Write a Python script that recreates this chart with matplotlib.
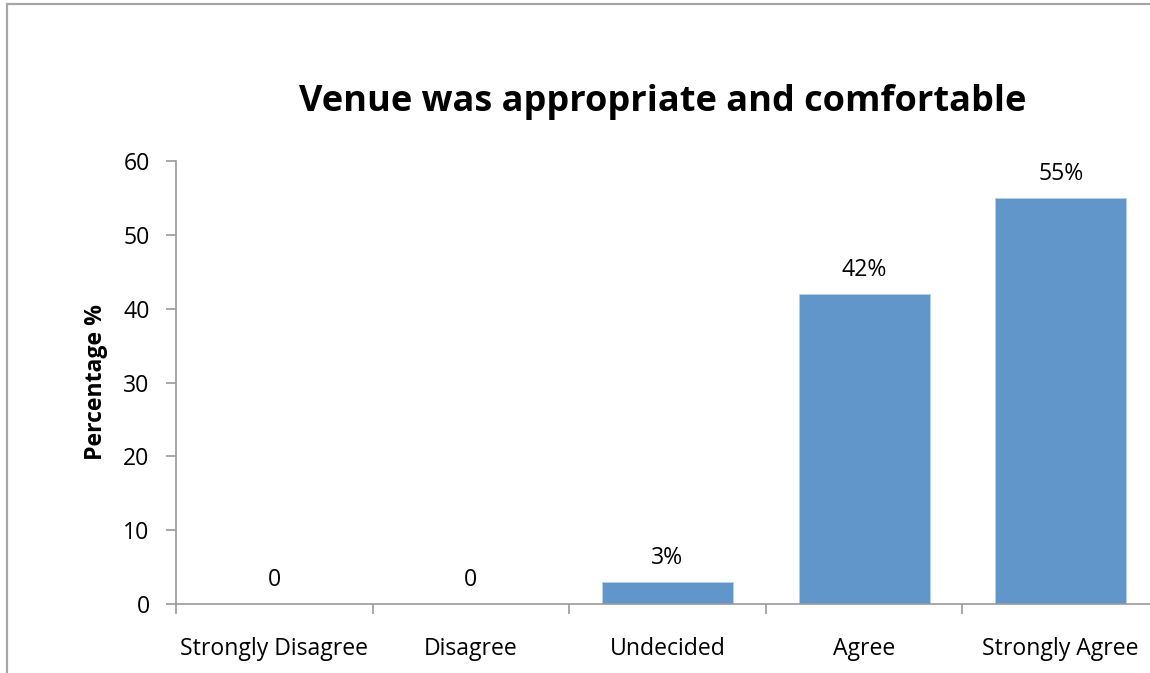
import matplotlib
matplotlib.use("Agg")
import matplotlib.pyplot as plt
from matplotlib.patches import Rectangle

CATEGORIES = ["Strongly Disagree", "Disagree", "Undecided", "Agree", "Strongly Agree"]
VALUES = [0, 0, 3, 42, 55]
LABELS = ["0", "0", "3%", "42%", "55%"]
Y_TICKS = [0, 10, 20, 30, 40, 50, 60]

plt.rcParams["font.family"] = ["Open Sans", "DejaVu Sans"]
AXIS_GREY = "#9a9a9a"
FS = 16.6

W, H = 1150, 673
fig = plt.figure(figsize=(W / 100, H / 100), dpi=100)

# outer chart border (cropped at right and bottom, like the source image)
fig.patches.append(Rectangle((7 / W, -0.05), 1.1, 1 - 4 / H + 0.05,
                             transform=fig.transFigure, fill=False,
                             edgecolor="#a6a6a6", linewidth=1.6))

ax = fig.add_axes([176 / W, (H - 604) / H, (1159 - 176) / W, (604 - 161) / H])
x = range(len(CATEGORIES))
ax.bar(x, VALUES, width=0.667, color="#6096C9", edgecolor="#b8cfe6", linewidth=0.6)

for xi, v, lab in zip(x, VALUES, LABELS):
    ax.text(xi, v + 1.6, lab, ha="center", va="bottom", fontsize=FS)

ax.set_xlim(-0.5, len(CATEGORIES) - 0.5)
ax.set_ylim(0, 60)
ax.set_yticks(Y_TICKS)
ax.set_xticks(x)
ax.set_xticklabels(CATEGORIES, fontsize=FS)
ax.set_xticks([i - 0.5 for i in range(len(CATEGORIES) + 1)], minor=True)
ax.tick_params(axis="x", which="major", length=0, pad=24)
ax.tick_params(axis="x", which="minor", length=7, color=AXIS_GREY, width=1.2)
ax.tick_params(axis="y", length=7, color=AXIS_GREY, width=1.2, labelsize=FS, pad=12)

for side in ("top", "right"):
    ax.spines[side].set_visible(False)
for side in ("left", "bottom"):
    ax.spines[side].set_color(AXIS_GREY)
    ax.spines[side].set_linewidth(1.2)

ax.set_ylabel("Percentage %", fontsize=FS, fontweight="bold", labelpad=11)
fig.text(663 / W, 1 - 102 / H, "Venue was appropriate and comfortable",
         ha="center", va="center", fontsize=26, fontweight="bold")

fig.savefig("out.png", dpi=100)
